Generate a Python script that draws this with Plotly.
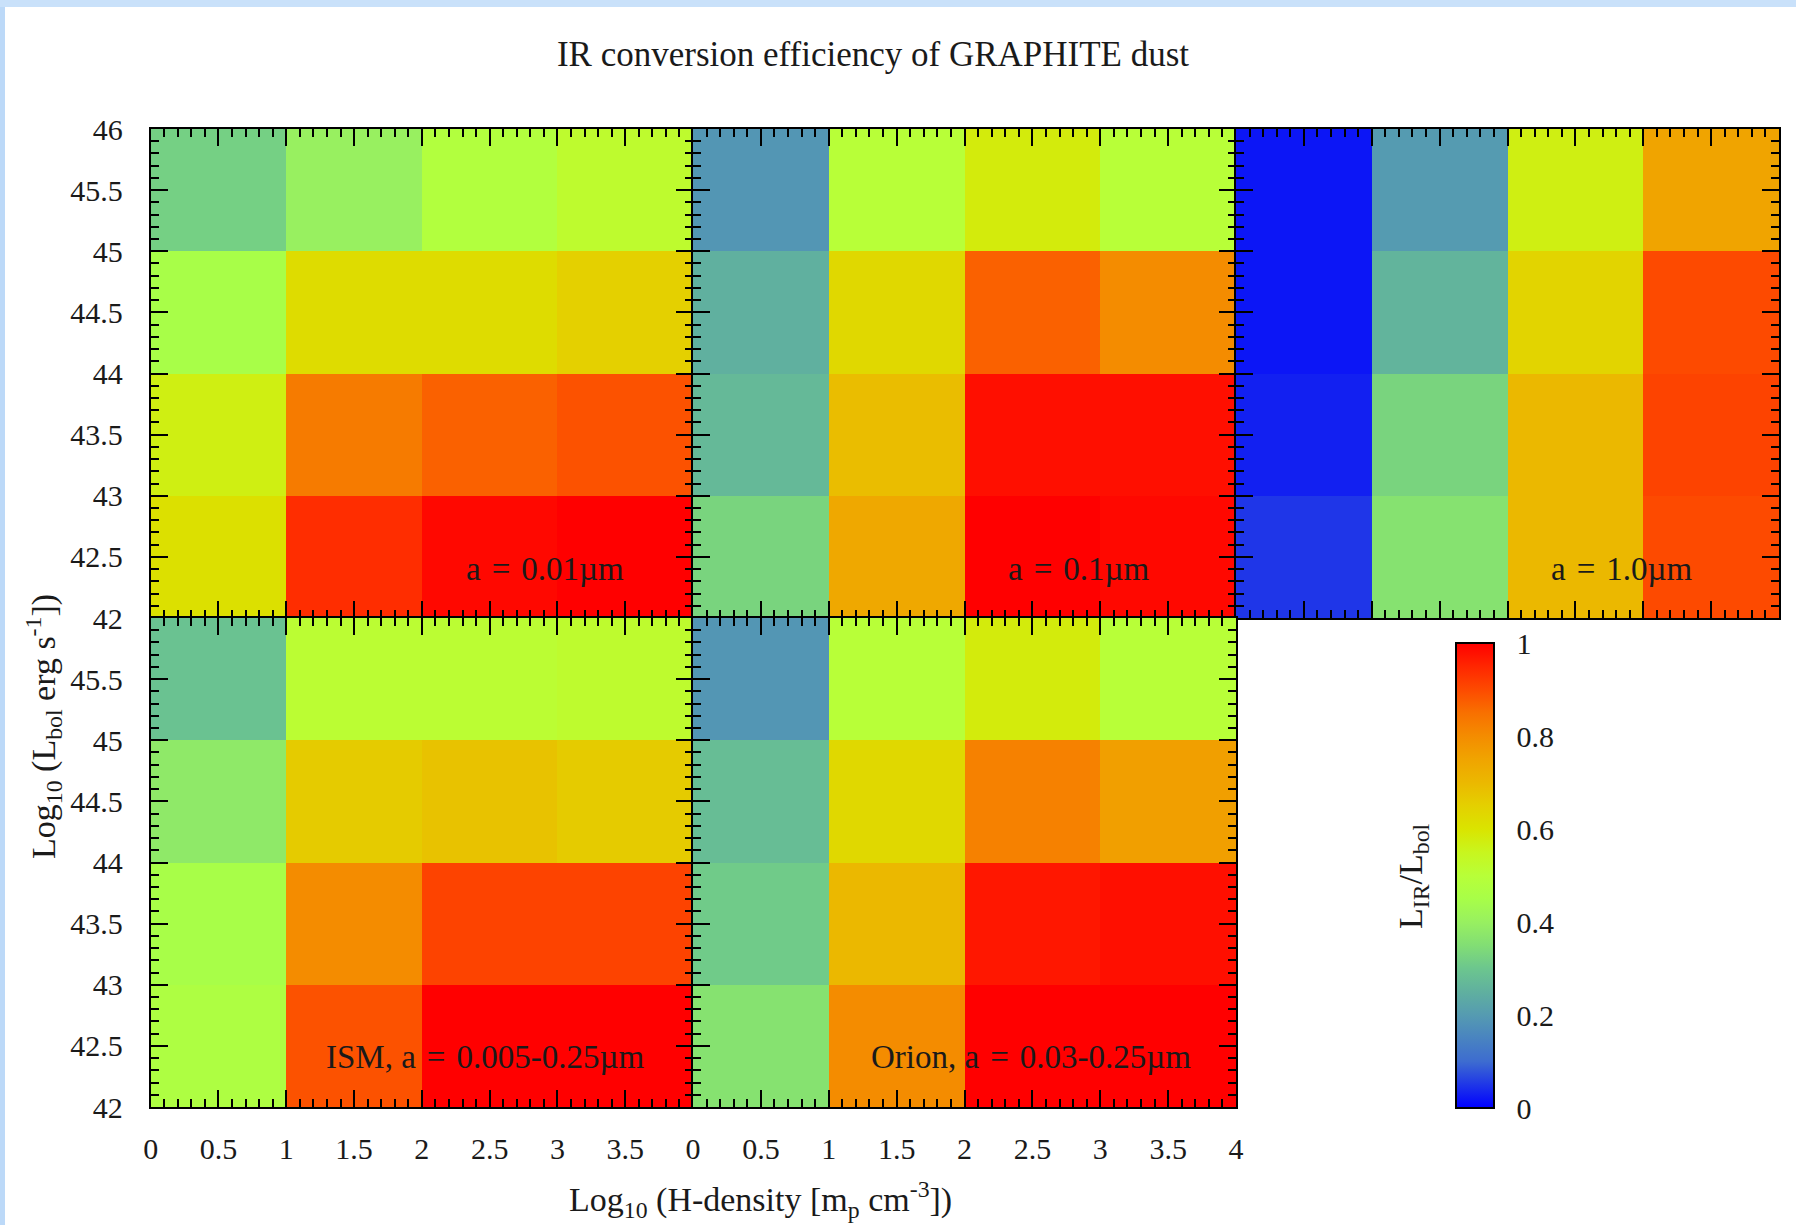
import plotly.graph_objects as go

# ---------------- data ----------------
x_centers = [0.5, 1.5, 2.5, 3.5]          # Log10 H-density cell centres
y_centers = [42.5, 43.5, 44.5, 45.5]      # Log10 Lbol cell centres

# rows: bottom (42.5) -> top (45.5); columns: x = 0.5 .. 3.5
z_a001 = [[0.61, 0.94, 0.99, 1.00],
          [0.57, 0.83, 0.87, 0.89],
          [0.45, 0.62, 0.62, 0.65],
          [0.32, 0.40, 0.48, 0.52]]
z_a01 = [[0.33, 0.74, 1.00, 0.99],
         [0.27, 0.69, 0.98, 0.98],
         [0.25, 0.63, 0.87, 0.80],
         [0.19, 0.50, 0.58, 0.50]]
z_a10 = [[0.05, 0.36, 0.70, 0.90],
         [0.03, 0.33, 0.70, 0.91],
         [0.02, 0.26, 0.64, 0.90],
         [0.02, 0.20, 0.57, 0.75]]
z_ism = [[0.47, 0.89, 1.00, 1.00],
         [0.45, 0.80, 0.91, 0.91],
         [0.38, 0.66, 0.68, 0.66],
         [0.29, 0.51, 0.51, 0.52]]
z_orion = [[0.36, 0.80, 1.00, 1.00],
           [0.31, 0.70, 0.97, 0.98],
           [0.28, 0.63, 0.82, 0.76],
           [0.19, 0.50, 0.58, 0.50]]

panel_z = [z_a001, z_a01, z_a10, z_ism, z_orion]
SP = "\u2004"
panel_labels = [f"a{SP}={SP}0.01\u00b5m", f"a{SP}={SP}0.1\u00b5m", f"a{SP}={SP}1.0\u00b5m",
                f"ISM, a{SP}={SP}0.005-0.25\u00b5m", f"Orion, a{SP}={SP}0.03-0.25\u00b5m"]

x_tickvals_first = [0, 0.5, 1, 1.5, 2, 2.5, 3, 3.5]
x_tickvals_second = [0, 0.5, 1, 1.5, 2, 2.5, 3, 3.5, 4]
y_tickvals_top = [42, 42.5, 43, 43.5, 44, 44.5, 45, 45.5, 46]
y_tickvals_bottom = [42, 42.5, 43, 43.5, 44, 44.5, 45, 45.5]

cbar_tickvals = [0, 0.2, 0.4, 0.6, 0.8, 1]
cbar_ticktext = ["0", "0.2", "0.4", "0.6", "0.8", "1"]

colorscale = [
    [0.00, "#0000ff"], [0.10, "#3d6cd0"], [0.20, "#559bb1"], [0.25, "#60b09f"],
    [0.30, "#6cc68e"], [0.35, "#82de74"], [0.40, "#98f060"], [0.45, "#a8fe48"],
    [0.50, "#b8ff38"], [0.55, "#c8f61e"], [0.60, "#dae400"], [0.65, "#e4d000"],
    [0.70, "#ebb800"], [0.75, "#f0a400"], [0.80, "#f48c00"], [0.85, "#f87000"],
    [0.90, "#fd4a00"], [0.95, "#ff2600"], [1.00, "#ff0000"],
]

# ---------------- layout helpers ----------------
W, H = 1796, 1225
def px(x):
    return x / W
def py(y):
    return 1 - y / H

FONT = "Liberation Serif"
TXT = "#1a1a1a"

col_px = [(150.7, 693.0), (693.0, 1236.0), (1236.0, 1779.0)]
row_px = [(129.0, 618.0), (618.0, 1107.0)]
panel_pos = [(0, 0), (1, 0), (2, 0), (0, 1), (1, 1)]

fig = go.Figure()
layout = dict()

for i, (z, (c, r)) in enumerate(zip(panel_z, panel_pos)):
    n = i + 1
    xa = "x" if n == 1 else f"x{n}"
    ya = "y" if n == 1 else f"y{n}"
    fig.add_trace(go.Heatmap(x=x_centers, y=y_centers, z=z, coloraxis="coloraxis",
                             xaxis=xa, yaxis=ya, hoverinfo="skip"))
    x0, x1 = col_px[c]
    y0, y1 = row_px[r]
    show_x = (r == 1)
    show_y = (c == 0)
    xtv = x_tickvals_first if c == 0 else x_tickvals_second
    ytv = y_tickvals_top if r == 0 else y_tickvals_bottom
    common = dict(showline=True, linecolor="black", linewidth=2, mirror="ticks",
                  ticks="inside", ticklen=17, tickwidth=2, tickcolor="black",
                  showgrid=False, zeroline=False, automargin=False,
                  tickfont=dict(family=FONT, size=30, color=TXT),
                  minor=dict(ticks="inside", ticklen=8, tickwidth=2, tickcolor="black",
                             tickmode="linear", tick0=0, dtick=0.1, showgrid=False))
    layout["xaxis" if n == 1 else f"xaxis{n}"] = dict(
        common, domain=[px(x0), px(x1)], range=[0, 4], anchor=ya,
        tickmode="array", tickvals=xtv,
        showticklabels=show_x, ticklabelstandoff=14)
    layout["yaxis" if n == 1 else f"yaxis{n}"] = dict(
        common, domain=[py(y1), py(y0)], range=[42, 46], anchor=xa,
        tickmode="array", tickvals=ytv,
        showticklabels=show_y, ticklabelstandoff=20)

annotations = []
label_pos = [(545, 569), (1079, 569), (1622, 569), (485, 1057), (1031, 1057)]
for txt, (ax, ay) in zip(panel_labels, label_pos):
    annotations.append(dict(text=txt, x=px(ax), y=py(ay), xref="paper", yref="paper",
                            showarrow=False, xanchor="center", yanchor="middle",
                            font=dict(family=FONT, size=33, color=TXT)))

annotations.append(dict(text="Log<sub>10</sub> (L<sub>bol</sub> erg s<sup>-1</sup>])",
                        x=px(43), y=py(727), xref="paper", yref="paper", textangle=-90,
                        showarrow=False, xanchor="center", yanchor="middle",
                        font=dict(family=FONT, size=34, color=TXT)))
annotations.append(dict(text="Log<sub>10</sub> (H-density [m<sub>p</sub> cm<sup>-3</sup>])",
                        x=px(760), y=py(1199), xref="paper", yref="paper",
                        showarrow=False, xanchor="center", yanchor="middle",
                        font=dict(family=FONT, size=34, color=TXT)))
annotations.append(dict(text="L<sub>IR</sub>/L<sub>bol</sub>",
                        x=px(1413), y=py(876), xref="paper", yref="paper", textangle=-90,
                        showarrow=False, xanchor="center", yanchor="middle",
                        font=dict(family=FONT, size=34, color=TXT)))

cb_top, cb_bot = 643.0, 1108.0
cb_left, cb_right = 1456.0, 1494.0
shapes = [
    dict(type="rect", xref="paper", yref="paper", x0=0, x1=px(5), y0=0, y1=1,
         fillcolor="#bcd9f8", line=dict(width=0), layer="above"),
    dict(type="rect", xref="paper", yref="paper", x0=0, x1=1, y0=py(7), y1=1,
         fillcolor="#c9e1fa", line=dict(width=0), layer="above"),
]
for v in cbar_tickvals[1:-1]:
    yy = cb_bot - v * (cb_bot - cb_top)
    for xa0, xa1 in ((cb_left, cb_left + 14), (cb_right - 14, cb_right)):
        shapes.append(dict(type="line", xref="paper", yref="paper",
                           x0=px(xa0), x1=px(xa1), y0=py(yy), y1=py(yy),
                           line=dict(color="black", width=2), layer="above"))

layout.update(
    width=W, height=H,
    margin=dict(l=0, r=0, t=0, b=0),
    paper_bgcolor="white", plot_bgcolor="white",
    showlegend=False,
    title=dict(text="IR conversion efficiency of GRAPHITE dust", x=px(873), y=py(54),
               xanchor="center", yanchor="middle",
               font=dict(family=FONT, size=35, color=TXT)),
    coloraxis=dict(
        colorscale=colorscale, cmin=0, cmax=1,
        colorbar=dict(x=px(cb_left), xanchor="left", xpad=0,
                      y=py((cb_top + cb_bot) / 2), yanchor="middle", ypad=0,
                      len=cb_bot - cb_top, lenmode="pixels",
                      thickness=cb_right - cb_left, thicknessmode="pixels",
                      outlinewidth=2, outlinecolor="black",
                      tickmode="array", tickvals=cbar_tickvals, ticktext=cbar_ticktext,
                      ticks="outside", ticklen=16, tickwidth=1,
                      tickcolor="rgba(0,0,0,0)",
                      tickfont=dict(family=FONT, size=30, color=TXT))),
    annotations=annotations,
    shapes=shapes,
)
fig.update_layout(layout)
fig.write_html("out.html", config={"displayModeBar": False},
               post_script="document.body.style.margin='0';document.body.style.overflow='hidden';")
